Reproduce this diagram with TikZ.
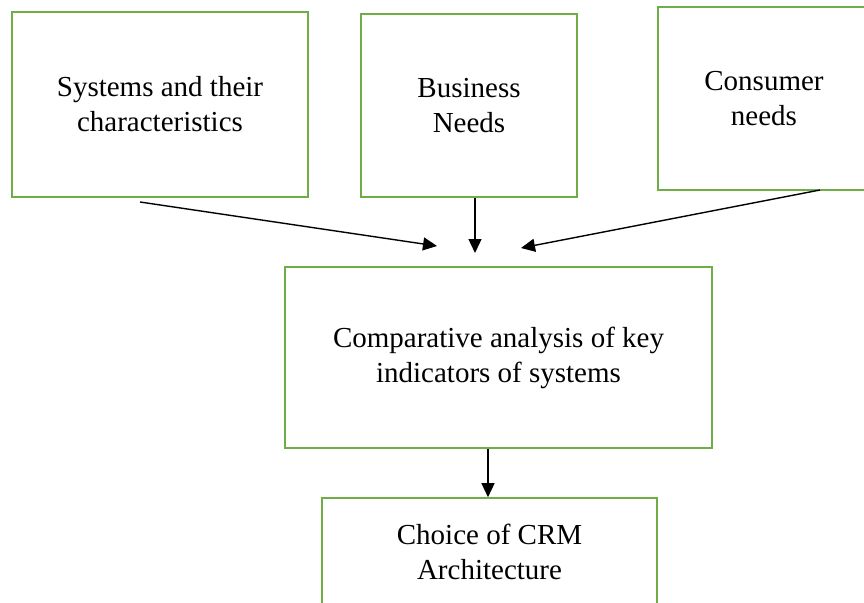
\documentclass[tikz,border=0pt]{standalone}
\usepackage{fontspec}
\setmainfont{Liberation Serif}
\usetikzlibrary{arrows.meta}
\definecolor{boxgreen}{RGB}{112,173,71}
\begin{document}
\begin{tikzpicture}[x=1pt,y=-1pt,
  box/.style={draw=boxgreen, line width=1.6pt, rectangle, align=center, inner sep=0pt,
    font=\fontsize{29}{35}\selectfont},
  arr/.style={draw=black, line width=1.4pt, -{Triangle[length=14pt,width=13pt]}}]
\useasboundingbox (0,0) rectangle (864,602);
\begin{scope}
\clip (0,0) rectangle (864,602);
\node[box, minimum width=296pt, minimum height=185pt] (b1) at (160,104.5) {Systems and their\\characteristics};
\node[box, minimum width=216pt, minimum height=183pt] (b2) at (469,105.5) {Business\\Needs};
\node[box, minimum width=212pt, minimum height=183pt] (b3) at (764,98.5) {Consumer\\needs};
\node[box, minimum width=427pt, minimum height=181pt] (b4) at (498.5,357.5) {Comparative analysis of key\\indicators of systems};
\node[box, minimum width=335pt, minimum height=108pt] (b5) at (489.5,552) {Choice of CRM\\Architecture};
\end{scope}
\coordinate (s1) at (140,202);
\coordinate (t1) at (437,246);
\coordinate (s2) at (475,198);
\coordinate (t2) at (475,253);
\coordinate (s3) at (820,190);
\coordinate (t3) at (521,248);
\draw[arr] (s1) -- (t1);
\draw[arr] (s2) -- (t2);
\draw[arr] (s3) -- (t3);
\draw[arr] (b4.south -| 488,0) -- (b5.north -| 488,0);
\end{tikzpicture}
\end{document}
